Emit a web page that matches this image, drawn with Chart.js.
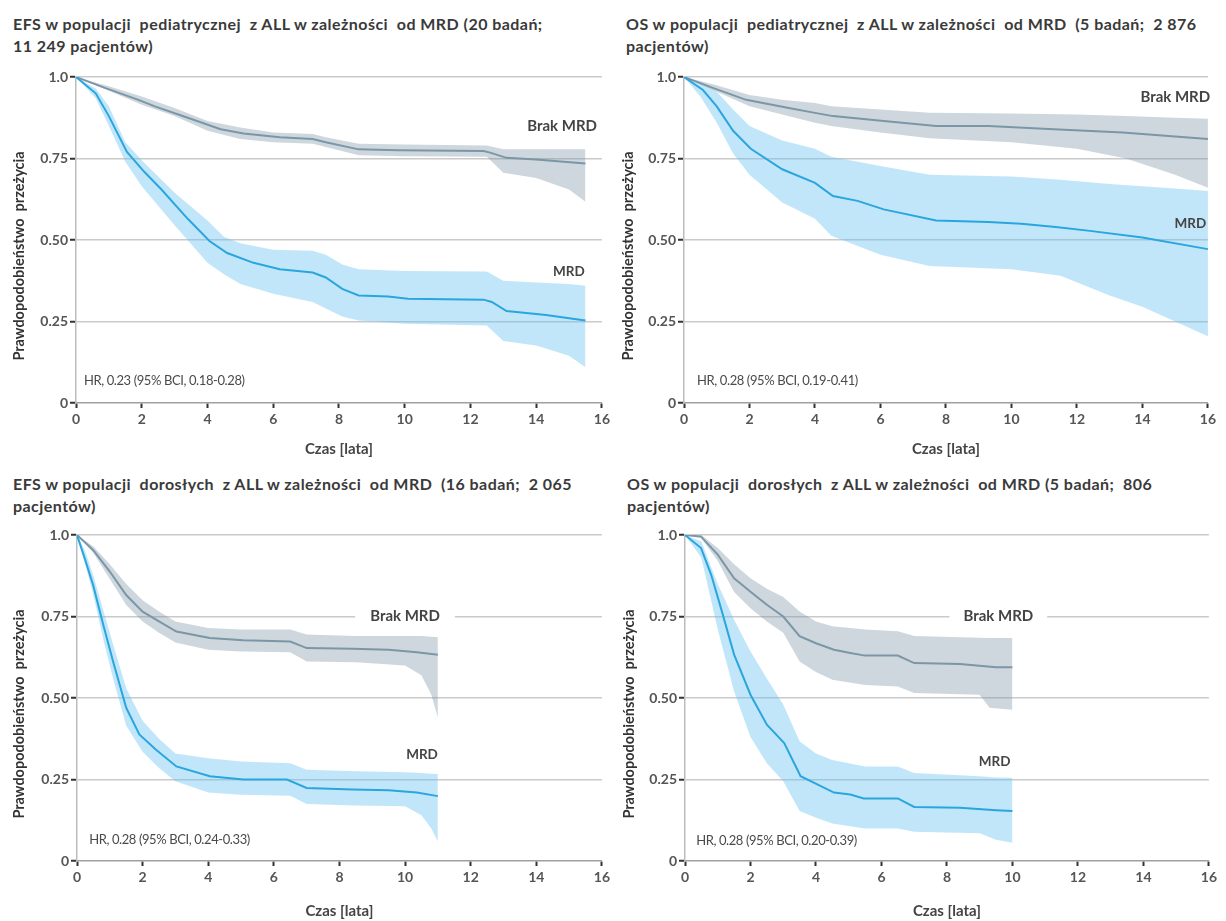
<!DOCTYPE html>
<html lang="pl">
<head>
<meta charset="utf-8">
<title>Przeżycie w ALL w zależności od MRD</title>
<script src="https://cdn.jsdelivr.net/npm/chart.js@4.4.1/dist/chart.umd.min.js"></script>
<style>
  html, body { margin: 0; padding: 0; background: #ffffff; }
  #page { position: relative; width: 1226px; height: 921px; overflow: hidden; }
  canvas { position: absolute; }
  .ptitle {
    position: absolute; white-space: pre; font-family: Lato, "Open Sans", sans-serif;
    font-weight: bold; font-size: 16px; letter-spacing: 0.45px; line-height: 22px; color: #3a3a3a;
  }
</style>
</head>
<body>
<div id="page">
  <div class="ptitle" id="t1" style="left:13px; top:13px;"></div>
  <div class="ptitle" id="t2" style="left:626px; top:13px;"></div>
  <div class="ptitle" id="t3" style="left:13px; top:473px;"></div>
  <div class="ptitle" id="t4" style="left:627px; top:473px;"></div>
  <canvas id="c1" width="613" height="400" style="left:0px; top:59px;"></canvas>
  <canvas id="c2" width="610" height="400" style="left:609px; top:59px;"></canvas>
  <canvas id="c3" width="613" height="404" style="left:0px; top:517px;"></canvas>
  <canvas id="c4" width="610" height="404" style="left:610px; top:517px;"></canvas>
</div>
<script>
// ---- axis ticks ----
const xTickStep = 2;
const yTickValues = [0, 0.25, 0.5, 0.75, 1.0];
const yTickLabels = ['0', '0.25', '0.50', '0.75', '1.0'];

// ---- panel titles ----
const titleEfsPed = ['EFS w populacji  pediatrycznej  z ALL w zależności  od MRD (20 badań;', '11 249 pacjentów)'];
const titleOsPed  = ['OS w populacji  pediatrycznej  z ALL w zależności  od MRD  (5 badań;  2 876', 'pacjentów)'];
const titleEfsAd  = ['EFS w populacji  dorosłych  z ALL w zależności  od MRD  (16 badań;  2 065', 'pacjentów)'];
const titleOsAd   = ['OS w populacji  dorosłych  z ALL w zależności  od MRD (5 badań;  806', 'pacjentów)'];

// ---- EFS, pediatric ----
const efsPedNoMrdT  = [0, 0.9, 1.9, 2.4, 3.4, 4.4, 5.1, 6.2, 7.2, 7.6, 8.6, 9.8, 12.4, 12.6, 13.1, 14.0, 15.5];
const efsPedNoMrd   = [1.0, 0.966, 0.93, 0.91, 0.875, 0.84, 0.827, 0.815, 0.81, 0.80, 0.778, 0.775, 0.773, 0.768, 0.752, 0.747, 0.735];
const efsPedNoMrdCiT = [0, 1, 2, 3, 4, 5, 6, 7.2, 7.6, 8.6, 10, 12.5, 13.0, 14.0, 15.0, 15.5];
const efsPedNoMrdHi  = [1.0, 0.972, 0.94, 0.905, 0.865, 0.845, 0.83, 0.825, 0.815, 0.795, 0.793, 0.79, 0.778, 0.778, 0.778, 0.778];
const efsPedNoMrdLo  = [1.0, 0.958, 0.915, 0.88, 0.835, 0.81, 0.80, 0.795, 0.785, 0.76, 0.757, 0.755, 0.706, 0.69, 0.655, 0.617];
const efsPedMrdT  = [0, 0.6, 1.0, 1.55, 2.07, 2.6, 3.4, 4.06, 4.6, 5.4, 6.2, 7.2, 7.6, 8.1, 8.6, 9.5, 10.1, 12.4, 12.65, 13.1, 14.3, 15.5];
const efsPedMrd   = [1.0, 0.95, 0.88, 0.77, 0.71, 0.655, 0.565, 0.497, 0.46, 0.43, 0.41, 0.40, 0.385, 0.35, 0.33, 0.327, 0.32, 0.317, 0.31, 0.282, 0.27, 0.253];
const efsPedMrdCiT = [0, 0.6, 1.0, 1.5, 2.0, 3.0, 4.0, 4.5, 5.0, 6.0, 7.2, 7.6, 8.1, 8.6, 10.0, 12.5, 13.0, 14.0, 15.0, 15.5];
const efsPedMrdHi  = [1.0, 0.965, 0.91, 0.80, 0.745, 0.645, 0.56, 0.51, 0.49, 0.47, 0.467, 0.455, 0.425, 0.41, 0.405, 0.403, 0.375, 0.37, 0.365, 0.36];
const efsPedMrdLo  = [1.0, 0.935, 0.85, 0.74, 0.665, 0.545, 0.43, 0.395, 0.365, 0.335, 0.31, 0.29, 0.265, 0.253, 0.243, 0.238, 0.19, 0.176, 0.145, 0.11];

// ---- OS, pediatric ----
const osPedNoMrdT = [0, 0.9, 1.9, 3.2, 4.0, 4.55, 6.1, 7.7, 9.3, 11.3, 13.4, 16];
const osPedNoMrd  = [1.0, 0.966, 0.93, 0.905, 0.89, 0.88, 0.865, 0.85, 0.85, 0.84, 0.83, 0.81];
const osPedNoMrdCiT = [0, 1, 2, 3, 4, 4.5, 6, 7.5, 10, 12, 13.5, 15, 16];
const osPedNoMrdHi  = [1.0, 0.975, 0.945, 0.93, 0.92, 0.91, 0.90, 0.89, 0.888, 0.885, 0.88, 0.875, 0.872];
const osPedNoMrdLo  = [1.0, 0.955, 0.91, 0.885, 0.86, 0.85, 0.83, 0.812, 0.80, 0.78, 0.75, 0.70, 0.66];
const osPedMrdT = [0, 0.58, 1.0, 1.5, 2.04, 3.0, 4.0, 4.55, 5.3, 6.1, 7.7, 9.3, 10.3, 11.35, 12.4, 14.0, 16];
const osPedMrd  = [1.0, 0.96, 0.91, 0.835, 0.78, 0.717, 0.675, 0.635, 0.62, 0.594, 0.56, 0.555, 0.55, 0.54, 0.528, 0.508, 0.472];
const osPedMrdCiT = [0, 0.5, 1, 1.5, 2, 3, 4, 4.5, 6, 7.5, 10, 11.5, 13, 14, 15, 16];
const osPedMrdHi  = [1.0, 0.985, 0.955, 0.90, 0.85, 0.805, 0.78, 0.755, 0.727, 0.70, 0.695, 0.685, 0.672, 0.665, 0.658, 0.65];
const osPedMrdLo  = [1.0, 0.94, 0.86, 0.765, 0.70, 0.615, 0.565, 0.513, 0.455, 0.42, 0.41, 0.39, 0.33, 0.295, 0.25, 0.205];

// ---- EFS, adults ----
const efsAdNoMrdT = [0, 0.49, 1.0, 1.5, 2.0, 2.5, 3.03, 4.05, 5.07, 6.5, 7.0, 8.4, 9.5, 10.36, 11.0];
const efsAdNoMrd  = [1.0, 0.954, 0.888, 0.816, 0.765, 0.735, 0.704, 0.684, 0.677, 0.673, 0.653, 0.651, 0.648, 0.64, 0.633];
const efsAdNoMrdCiT = [0, 0.5, 1, 1.5, 2, 2.5, 3, 4, 5, 6.5, 7, 8.5, 10, 10.5, 10.8, 11];
const efsAdNoMrdHi  = [1.0, 0.965, 0.91, 0.85, 0.80, 0.765, 0.735, 0.715, 0.71, 0.71, 0.695, 0.69, 0.69, 0.69, 0.688, 0.686];
const efsAdNoMrdLo  = [1.0, 0.945, 0.865, 0.785, 0.735, 0.70, 0.67, 0.648, 0.643, 0.64, 0.612, 0.61, 0.60, 0.57, 0.51, 0.44];
const efsAdMrdT = [0, 0.23, 0.49, 0.8, 1.1, 1.5, 1.9, 2.4, 3.03, 4.05, 5.07, 6.4, 7.0, 8.4, 9.5, 10.36, 11.0];
const efsAdMrd  = [1.0, 0.93, 0.847, 0.725, 0.612, 0.47, 0.388, 0.342, 0.29, 0.26, 0.25, 0.25, 0.224, 0.219, 0.217, 0.21, 0.199];
const efsAdMrdCiT = [0, 0.25, 0.5, 0.8, 1.1, 1.5, 2, 2.5, 3, 4, 5, 6.5, 7, 8.5, 10, 10.5, 10.8, 11];
const efsAdMrdHi  = [1.0, 0.95, 0.875, 0.77, 0.665, 0.53, 0.43, 0.375, 0.33, 0.315, 0.305, 0.30, 0.28, 0.275, 0.272, 0.27, 0.268, 0.267];
const efsAdMrdLo  = [1.0, 0.91, 0.815, 0.68, 0.56, 0.415, 0.335, 0.285, 0.245, 0.21, 0.203, 0.20, 0.175, 0.17, 0.168, 0.14, 0.10, 0.06];

// ---- OS, adults ----
const osAdNoMrdT = [0, 0.49, 1.0, 1.5, 2.0, 2.5, 3.0, 3.5, 4.0, 4.55, 5.05, 5.5, 6.5, 7.0, 8.4, 9.5, 10];
const osAdNoMrd  = [1.0, 0.995, 0.94, 0.867, 0.826, 0.786, 0.75, 0.69, 0.668, 0.648, 0.638, 0.63, 0.63, 0.607, 0.604, 0.594, 0.594];
const osAdNoMrdCiT = [0, 0.5, 1, 1.5, 2, 2.5, 3, 3.5, 4, 4.5, 5.5, 6.5, 7, 9, 9.3, 10];
const osAdNoMrdHi  = [1.0, 1.0, 0.96, 0.91, 0.867, 0.835, 0.81, 0.765, 0.735, 0.72, 0.71, 0.705, 0.69, 0.685, 0.684, 0.684];
const osAdNoMrdLo  = [1.0, 0.99, 0.92, 0.825, 0.775, 0.735, 0.70, 0.612, 0.58, 0.556, 0.54, 0.535, 0.515, 0.51, 0.47, 0.464];
const osAdMrdT = [0, 0.49, 0.8, 1.1, 1.5, 2.0, 2.5, 3.03, 3.53, 4.04, 4.55, 5.05, 5.46, 6.5, 7.0, 8.4, 9.5, 10];
const osAdMrd  = [1.0, 0.96, 0.878, 0.775, 0.633, 0.51, 0.418, 0.362, 0.26, 0.235, 0.21, 0.204, 0.192, 0.192, 0.166, 0.163, 0.156, 0.153];
const osAdMrdCiT = [0, 0.5, 1, 1.5, 2, 2.5, 3, 3.5, 4, 4.5, 5.5, 6.5, 7, 9, 9.5, 10];
const osAdMrdHi  = [1.0, 0.98, 0.85, 0.74, 0.643, 0.56, 0.48, 0.367, 0.33, 0.31, 0.29, 0.29, 0.27, 0.26, 0.256, 0.255];
const osAdMrdLo  = [1.0, 0.93, 0.71, 0.52, 0.38, 0.30, 0.245, 0.153, 0.133, 0.115, 0.10, 0.10, 0.09, 0.085, 0.065, 0.056];

// ---- text ----
const xAxisTitle = 'Czas [lata]';
const yAxisTitle = 'Prawdopodobieństwo  przeżycia';
const labelNoMrd = 'Brak MRD';
const labelMrd = 'MRD';
const hrEfsPed = 'HR, 0.23 (95% BCI, 0.18-0.28)';
const hrOsPed  = 'HR, 0.28 (95% BCI, 0.19-0.41)';
const hrEfsAd  = 'HR, 0.28 (95% BCI, 0.24-0.33)';
const hrOsAd   = 'HR, 0.28 (95% BCI, 0.20-0.39)';

// ---- styling ----
const FONT = 'Lato, "Open Sans", sans-serif';
const colNoMrdLine = '#7b97a7';
const colNoMrdBand = 'rgba(125,150,165,0.38)';
const colMrdLine = '#2aa6df';
const colMrdBand = 'rgba(110,195,240,0.42)';
const colText = '#444444';
const colTick = '#555555';

const pts = (T, V) => T.map((t, i) => ({ x: t, y: V[i] }));

// draws the rotated y-axis caption and the in-plot labels, anchored in data units
const panelTextPlugin = {
  id: 'panelText',
  afterDatasetsDraw(chart) {
    const cfg = chart.options.plugins.panelText;
    const { ctx, scales: { x, y } } = chart;
    ctx.save();
    // y-axis caption
    ctx.font = 'bold 14.5px ' + FONT;
    ctx.fillStyle = '#333333';
    ctx.textAlign = 'center';
    ctx.textBaseline = 'middle';
    ctx.translate(y.left + 11, (y.top + y.bottom) / 2 + 16);
    ctx.rotate(-Math.PI / 2);
    ctx.fillText(yAxisTitle, 0, 0);
    ctx.restore();

    for (const lab of cfg.labels) {
      ctx.save();
      ctx.font = (lab.weight || 'bold') + ' ' + lab.size + 'px ' + FONT;
      if (lab.spacing) ctx.letterSpacing = lab.spacing;
      ctx.textAlign = lab.align;
      ctx.textBaseline = 'middle';
      const px = x.getPixelForValue(lab.t);
      const py = y.getPixelForValue(lab.v);
      if (lab.pad) {
        const w = ctx.measureText(lab.text).width;
        let left = px - w / 2;
        if (lab.align === 'right') left = px - w;
        if (lab.align === 'left') left = px;
        ctx.fillStyle = '#ffffff';
        ctx.fillRect(left - lab.pad, py - 8, w + 2 * lab.pad, 16);
      }
      ctx.fillStyle = lab.color || colText;
      ctx.fillText(lab.text, px, py);
      ctx.restore();
    }
  }
};

function makePanel(canvasId, p) {
  const datasets = [
    { data: pts(p.noMrdCiT, p.noMrdLo), borderWidth: 0, pointRadius: 0, fill: false, order: 3 },
    { data: pts(p.noMrdCiT, p.noMrdHi), borderWidth: 0, pointRadius: 0, fill: '-1', backgroundColor: colNoMrdBand, order: 3 },
    { data: pts(p.mrdCiT, p.mrdLo), borderWidth: 0, pointRadius: 0, fill: false, order: 2 },
    { data: pts(p.mrdCiT, p.mrdHi), borderWidth: 0, pointRadius: 0, fill: '-1', backgroundColor: colMrdBand, order: 2 },
    { label: labelNoMrd, data: pts(p.noMrdT, p.noMrd), borderColor: colNoMrdLine, borderWidth: 2, pointRadius: 0, fill: false, order: 1 },
    { label: labelMrd, data: pts(p.mrdT, p.mrd), borderColor: colMrdLine, borderWidth: 2, pointRadius: 0, fill: false, order: 0 }
  ];
  return new Chart(document.getElementById(canvasId), {
    type: 'line',
    data: { datasets },
    plugins: [panelTextPlugin],
    options: {
      responsive: false,
      animation: false,
      devicePixelRatio: 1,
      events: [],
      layout: { padding: { left: 8, right: p.padRight, top: 18, bottom: 0 } },
      elements: { line: { tension: 0 } },
      plugins: {
        legend: { display: false },
        tooltip: { enabled: false },
        panelText: { labels: p.labels }
      },
      scales: {
        x: {
          type: 'linear', min: 0, max: 16,
          ticks: { stepSize: xTickStep, color: colTick, font: { family: FONT, size: 14, weight: 'bold' }, padding: 3, maxRotation: 0, autoSkip: false },
          grid: { drawOnChartArea: false, drawTicks: true, tickLength: 5, tickColor: '#333333', tickWidth: 2 },
          border: { display: true, color: '#a0a0a0', width: 1.5 },
          title: { display: true, text: xAxisTitle, color: '#444444', font: { family: FONT, size: 15, weight: 'bold' }, padding: { top: 0, bottom: 1 } },
          afterFit: (s) => { s.height = p.xAxisH; }
        },
        y: {
          type: 'linear', min: 0, max: 1,
          afterBuildTicks: (s) => { s.ticks = yTickValues.map(v => ({ value: v })); },
          ticks: {
            color: colTick, font: { family: FONT, size: 14, weight: 'bold' }, padding: 2,
            callback: (v) => yTickLabels[yTickValues.indexOf(v)]
          },
          grid: {
            color: (c) => (c.tick && c.tick.value === 0) ? 'rgba(0,0,0,0)' : '#cacaca',
            lineWidth: 1.5, drawTicks: true, tickLength: 6, tickColor: '#333333', tickWidth: 2
          },
          border: { display: true, color: '#bcbcbc', width: 1.5 },
          afterFit: (s) => { s.width = p.yAxisW; }
        }
      }
    }
  });
}

function setTitle(id, lines) { document.getElementById(id).textContent = lines.join('\n'); }
setTitle('t1', titleEfsPed);
setTitle('t2', titleOsPed);
setTitle('t3', titleEfsAd);
setTitle('t4', titleOsAd);

const hrStyle = { align: 'left', size: 13, weight: 'normal', color: '#4a4a4a', spacing: '-0.4px' };

makePanel('c1', {
  padRight: 11, yAxisW: 68, xAxisH: 56,
  noMrdT: efsPedNoMrdT, noMrd: efsPedNoMrd, noMrdCiT: efsPedNoMrdCiT, noMrdHi: efsPedNoMrdHi, noMrdLo: efsPedNoMrdLo,
  mrdT: efsPedMrdT, mrd: efsPedMrd, mrdCiT: efsPedMrdCiT, mrdHi: efsPedMrdHi, mrdLo: efsPedMrdLo,
  labels: [
    { text: labelNoMrd, t: 15.85, v: 0.85, align: 'right', size: 15 },
    { text: labelMrd, t: 15.48, v: 0.404, align: 'right', size: 13.5 },
    Object.assign({ text: hrEfsPed, t: 0.24, v: 0.067 }, hrStyle)
  ]
});
makePanel('c2', {
  padRight: 11, yAxisW: 67, xAxisH: 56,
  noMrdT: osPedNoMrdT, noMrd: osPedNoMrd, noMrdCiT: osPedNoMrdCiT, noMrdHi: osPedNoMrdHi, noMrdLo: osPedNoMrdLo,
  mrdT: osPedMrdT, mrd: osPedMrd, mrdCiT: osPedMrdCiT, mrdHi: osPedMrdHi, mrdLo: osPedMrdLo,
  labels: [
    { text: labelNoMrd, t: 16.07, v: 0.939, align: 'right', size: 15 },
    { text: labelMrd, t: 15.95, v: 0.55, align: 'right', size: 13.5 },
    Object.assign({ text: hrOsPed, t: 0.40, v: 0.067 }, hrStyle)
  ]
});
makePanel('c3', {
  padRight: 11, yAxisW: 69, xAxisH: 60,
  noMrdT: efsAdNoMrdT, noMrd: efsAdNoMrd, noMrdCiT: efsAdNoMrdCiT, noMrdHi: efsAdNoMrdHi, noMrdLo: efsAdNoMrdLo,
  mrdT: efsAdMrdT, mrd: efsAdMrd, mrdCiT: efsAdMrdCiT, mrdHi: efsAdMrdHi, mrdLo: efsAdMrdLo,
  labels: [
    { text: labelNoMrd, t: 10.0, v: 0.75, align: 'center', size: 15, pad: 15 },
    { text: labelMrd, t: 11.0, v: 0.325, align: 'right', size: 13.5 },
    Object.assign({ text: hrEfsAd, t: 0.37, v: 0.064 }, hrStyle)
  ]
});
makePanel('c4', {
  padRight: 10, yAxisW: 67, xAxisH: 60,
  noMrdT: osAdNoMrdT, noMrd: osAdNoMrd, noMrdCiT: osAdNoMrdCiT, noMrdHi: osAdNoMrdHi, noMrdLo: osAdNoMrdLo,
  mrdT: osAdMrdT, mrd: osAdMrd, mrdCiT: osAdMrdCiT, mrdHi: osAdMrdHi, mrdLo: osAdMrdLo,
  labels: [
    { text: labelNoMrd, t: 9.57, v: 0.75, align: 'center', size: 15, pad: 14 },
    { text: labelMrd, t: 9.94, v: 0.304, align: 'right', size: 13.5 },
    Object.assign({ text: hrOsAd, t: 0.34, v: 0.062 }, hrStyle)
  ]
});
</script>
</body>
</html>
